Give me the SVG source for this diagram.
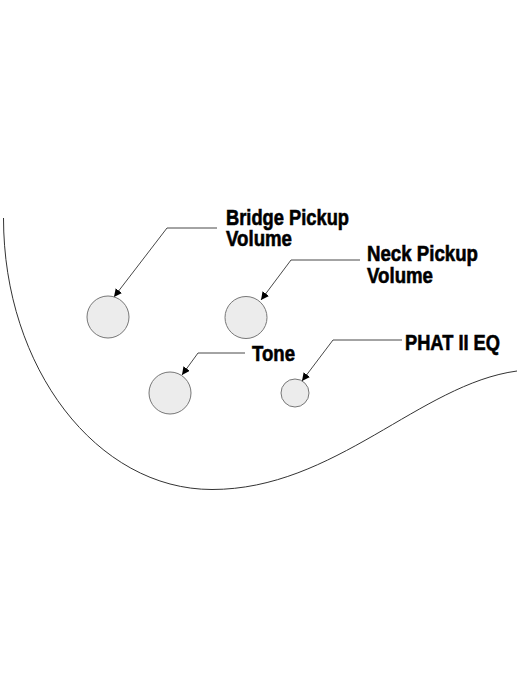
<svg xmlns="http://www.w3.org/2000/svg" width="525" height="700" viewBox="0 0 525 700">
<style>
.body{fill:none;stroke:#333;stroke-width:1}
.knob{fill:#ececec;stroke:#777;stroke-width:1}
.lead{fill:none;stroke:#333;stroke-width:0.9}
.lbl{font-family:"Liberation Sans Narrow","Liberation Sans",Arial,sans-serif;font-weight:bold;font-size:22.5px;fill:#000;stroke:#000;stroke-width:0.6}
</style>
<defs>
<marker id="arr" viewBox="0 0 10 10" refX="10" refY="5" markerWidth="8" markerHeight="8" markerUnits="userSpaceOnUse" orient="auto">
<path d="M0,0 L10,5 L0,10 z" fill="#000"/>
</marker>
</defs>
<rect width="525" height="700" fill="#fff"/>
<g id="body-outline">
<path class="body" d="M3.5,218 C3.5,368 97,489.5 212,489.5 C335,489.5 420,384 517,371"/>
</g>
<g id="connectors">
<polyline class="lead" points="217,228 167,228 114,297" marker-end="url(#arr)"/>
<polyline class="lead" points="360,260 291,260 261,300" marker-end="url(#arr)"/>
<polyline class="lead" points="245,353 198,353 182,375" marker-end="url(#arr)"/>
<polyline class="lead" points="402,340 333,340 302,381" marker-end="url(#arr)"/>
</g>
<g id="bridge-volume">
<circle class="knob" cx="108" cy="317" r="21"/>
<text class="lbl" x="226" y="224.5" textLength="123" lengthAdjust="spacingAndGlyphs">Bridge Pickup</text>
<text class="lbl" x="226" y="246" textLength="66" lengthAdjust="spacingAndGlyphs">Volume</text>
</g>
<g id="neck-volume">
<circle class="knob" cx="246" cy="317.5" r="21"/>
<text class="lbl" x="367" y="261" textLength="111" lengthAdjust="spacingAndGlyphs">Neck Pickup</text>
<text class="lbl" x="367" y="283" textLength="66" lengthAdjust="spacingAndGlyphs">Volume</text>
</g>
<g id="tone">
<circle class="knob" cx="170" cy="393" r="21"/>
<text class="lbl" x="252" y="361" textLength="43" lengthAdjust="spacingAndGlyphs">Tone</text>
</g>
<g id="phat-eq">
<circle class="knob" cx="295" cy="393" r="14"/>
<text class="lbl" x="405" y="350" textLength="95" lengthAdjust="spacingAndGlyphs">PHAT II EQ</text>
</g>
</svg>
